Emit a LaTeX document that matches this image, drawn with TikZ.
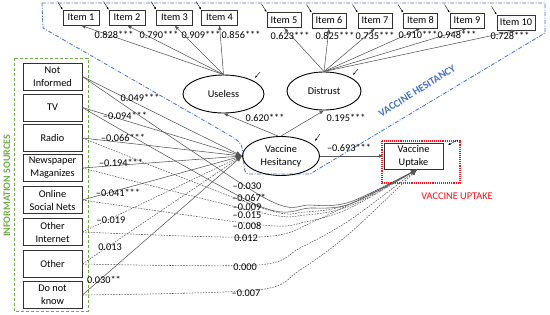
\documentclass[tikz,border=0pt]{standalone}
\usepackage{fontspec}
\setmainfont{Carlito}
\usetikzlibrary{arrows.meta,shapes.geometric,calc}
\definecolor{hblue}{RGB}{68,114,196}
\definecolor{sgreen}{RGB}{112,173,71}
\definecolor{ured}{RGB}{240,20,20}
\definecolor{lgray}{RGB}{85,85,85}
\begin{document}
\begin{tikzpicture}[x=1pt,y=-1pt, font=\fontsize{10.3}{12}\selectfont,
 itembox/.style={draw=black!80, line width=0.8pt, minimum height=15pt, inner sep=0pt},
 srcbox/.style={draw=black!80, line width=0.8pt, minimum width=59pt, minimum height=27pt, inner sep=0pt, align=center, font=\fontsize{10.3}{13}\selectfont},
 latent/.style={ellipse, draw=black, line width=0.9pt, inner sep=0pt, align=center},
 conn/.style={draw=lgray, line width=0.55pt},
 dconn/.style={conn, dash pattern=on 1.6pt off 1.2pt},
 bigtip/.style={-{Latex[length=6pt,width=4.5pt]}},
 smalltip/.style={-{Latex[length=4.5pt,width=3.5pt]}},
 errtip/.style={-{Latex[length=2.5pt,width=2pt]}, draw=black, line width=0.4pt},
 coef/.style={inner sep=0pt, font=\fontsize{10.3}{12}\selectfont}
]
\useasboundingbox (0,0) rectangle (550,314);

% frames
\draw[hblue, line width=0.8pt, dash pattern=on 4pt off 1.5pt on 1pt off 1.5pt]
  (42,3) -- (545,3) -- (545,33) -- (310,174) [rounded corners=4pt] -- (245,174) -- (242,145) -- (236,139) [sharp corners] -- (43,28) -- cycle;
\draw[sgreen, line width=0.8pt, dash pattern=on 3pt off 2pt] (14,58) rectangle (88,311);
\draw[ured, line width=1.1pt, densely dotted] (382,141) rectangle (460,183);

\node[text=hblue, font=\fontsize{10.5}{12}\selectfont\bfseries, rotate=32] (vhlab) at (417,91) {VACCINE HESITANCY};
\node[text=sgreen, font=\fontsize{10}{12}\selectfont\bfseries, rotate=90] (islab) at (7,186) {INFORMATION SOURCES};
\node[text=ured] (uplab) at (457,196) {VACCINE UPTAKE};

% items
\node[itembox, minimum width=36pt] (i1) at (81,17.5) {Item 1};
\node[itembox, minimum width=36pt] (i2) at (127,17.5) {Item 2};
\node[itembox, minimum width=36pt] (i3) at (174.5,17.5) {Item 3};
\node[itembox, minimum width=36pt] (i4) at (219.5,17.5) {Item 4};
\node[itembox, minimum width=34pt] (i5) at (284,20) {Item 5};
\node[itembox, minimum width=34pt] (i6) at (329,20.5) {Item 6};
\node[itembox, minimum width=34pt] (i7) at (375,20.5) {Item 7};
\node[itembox, minimum width=34pt] (i8) at (420.5,20.5) {Item 8};
\node[itembox, minimum width=34pt] (i9) at (467,20.5) {Item 9};
\node[itembox, minimum width=38pt] (i10) at (516,22.5) {Item 10};

\foreach \i in {1,...,10}{
  \coordinate (e\i) at ($(i\i.north west)+(-5,-8)$);
  \draw[errtip] (e\i) -- (i\i.north west);
}

% latent variables
\node[latent, minimum width=81pt, minimum height=38pt] (useless) at (223.5,94) {Useless};
\node[latent, minimum width=74pt, minimum height=38pt] (distrust) at (324,91) {Distrust};
\node[latent, minimum width=77pt, minimum height=39pt, font=\fontsize{10.3}{13}\selectfont] (vh) at (281,156) {Vaccine\\Hesitancy};
\node[srcbox, minimum height=26pt] (up) at (413.5,156) {Vaccine\\Uptake};

\coordinate (eu) at (260,72); \draw[errtip] (eu) -- ($(eu)+(-5,6)$) coordinate (eu2);
\coordinate (ed) at (358,69); \draw[errtip] (ed) -- ($(ed)+(-5,6)$) coordinate (ed2);
\coordinate (ev) at (320,134); \draw[errtip] (ev) -- ($(ev)+(-5,7)$) coordinate (ev2);
\coordinate (ep) at (458,140); \draw[errtip] (ep) -- ($(ep)+(-10,5)$) coordinate (ep2);

% loadings
\foreach \i in {1,2,3,4}{ \draw[conn,smalltip] (useless.north) -- (i\i.south); }
\foreach \i in {5,...,10}{ \draw[conn,smalltip] (distrust.north) -- (i\i.south); }
\node[coef] (l1) at (114,35) {0.828***};
\node[coef] (l2) at (159,35) {0.790***};
\node[coef] (l3) at (201,35) {0.909***};
\node[coef] (l4) at (241,35) {0.856***};
\node[coef] (l5) at (290,36) {0.623***};
\node[coef] (l6) at (335,36) {0.825***};
\node[coef] (l7) at (375,35.5) {0.735***};
\node[coef] (l8) at (418,35) {0.910***};
\node[coef] (l9) at (457,35) {0.948***};
\node[coef] (l10) at (510,36) {0.728***};

% structural
\draw[conn,smalltip] (vh.north) ++(-3,0) coordinate (vht) -- (useless.south);
\draw[conn,smalltip] (vh.north) -- (distrust.south);
\draw[conn,smalltip] (vh.east) -- (up.west);
\node[coef] (c620) at (265,118) {0.620***};
\node[coef] (c195) at (346,118) {0.195***};
\node[coef] (c693) at (349,148) {--0.693***};

% sources
\node[srcbox] (ni) at (52.5,76.5) {Not\\Informed};
\node[srcbox] (tv) at (52.5,107.5) {TV};
\node[srcbox] (ra) at (52.5,138) {Radio};
\node[srcbox] (np) at (52.5,168) {Newspaper\\Maganizes};
\node[srcbox] (os) at (52.5,200) {Online\\Social Nets};
\node[srcbox] (oi) at (52.5,232) {Other\\Internet};
\node[srcbox] (ot) at (52.5,264) {Other};
\node[srcbox] (dk) at (52.5,295) {Do not\\know};

\coordinate (upin) at (417,169.5);

% sources -> uptake (curved)
\draw[conn,bigtip] plot[smooth,tension=0.5] coordinates {(ni.east) (263,197) (310,205) (350,202) (upin)};
\draw[conn,bigtip] plot[smooth,tension=0.5] coordinates {(tv.east) (257,205) (310,208) (350,204) (upin)};
\draw[dconn,bigtip] plot[smooth,tension=0.5] coordinates {(ra.east) (262,208) (305,212) (350,204) (upin)};
\draw[dconn,bigtip] plot[smooth,tension=0.5] coordinates {(np.east) (262,213) (305,215) (350,206) (upin)};
\draw[dconn,bigtip] plot[smooth,tension=0.5] coordinates {(os.east) (262,225) (305,222) (350,208) (upin)};
\draw[dconn,bigtip] plot[smooth,tension=0.5] coordinates {(oi.east) (260,237) (317,220) (upin)};
\draw[dconn,bigtip] plot[smooth,tension=0.5] coordinates {(ot.east) (258,265) (300,248) (350,220) (upin)};
\draw[dconn,bigtip] plot[smooth,tension=0.5] coordinates {(dk.east) (258,290) (300,270) (350,233) (upin)};

% sources -> VH
\foreach \s in {ni,tv,ra,np,os,dk}{ \draw[conn,bigtip] (\s.east) -- (vh.west); }
\foreach \s in {oi,ot}{ \draw[dconn,bigtip] (\s.east) -- (vh.west); }

\node[coef] (v1) at (140,98) {0.049***};
\node[coef] (v2) at (125,116) {--0.094***};
\node[coef] (v3) at (123,138) {--0.066***};
\node[coef] (v4) at (121,163) {--0.194***};
\node[coef] (v5) at (118,193) {--0.041***};
\node[coef] (v6) at (111,220) {--0.019};
\node[coef] (v7) at (110,247) {0.013};
\node[coef] (v8) at (104,280) {0.030**};

\node[coef] (u1) at (247,186) {--0.030};
\node[coef] (u2) at (249,198) {--0.067*};
\node[coef] (u3) at (247,207) {--0.009};
\node[coef] (u4) at (247,215) {--0.015};
\node[coef] (u5) at (247,226) {--0.008};
\node[coef] (u6) at (246,238) {0.012};
\node[coef] (u7) at (245,267) {0.000};
\node[coef] (u8) at (246,293) {--0.007};
\end{tikzpicture}
\end{document}
